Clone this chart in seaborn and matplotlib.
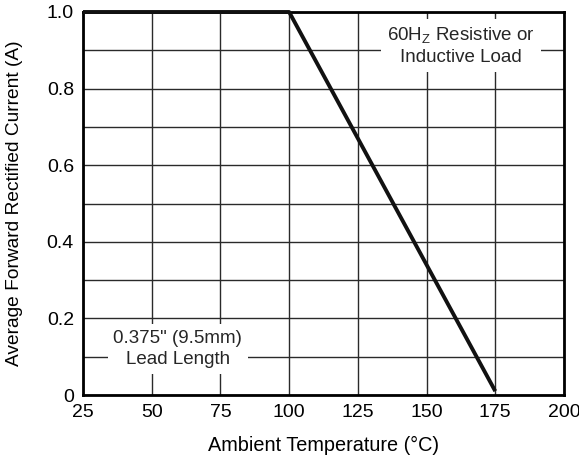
import matplotlib
matplotlib.use("Agg")
import matplotlib.pyplot as plt
import seaborn as sns
import pandas as pd

temperature = [25, 100, 175]
current = [1.0, 1.0, 0.01]
x_ticks = [25, 50, 75, 100, 125, 150, 175, 200]
y_ticks = [0, 0.2, 0.4, 0.6, 0.8, 1.0]
y_tick_labels = ["0", "0.2", "0.4", "0.6", "0.8", "1.0"]
y_grid = [0.1, 0.3, 0.5, 0.7, 0.9]

sns.set_theme(style="white")
plt.rcParams['font.family'] = ['Liberation Sans', 'DejaVu Sans']
plt.rcParams['mathtext.default'] = 'regular'

df = pd.DataFrame({"T": temperature, "I": current})

fig = plt.figure(figsize=(5.79, 4.62), dpi=100)
ax = fig.add_axes([83/579, 1 - 395/462, (564-83)/579, (395-12)/462])

ax.set_xlim(25, 200)
ax.set_ylim(0, 1.0)
ax.set_xticks(x_ticks)
ax.set_yticks(y_ticks)
ax.set_yticklabels(y_tick_labels)
ax.set_yticks(y_grid, minor=True)
ax.grid(True, which='both', color='#2a2a2a', linewidth=1.0)
ax.tick_params(axis='both', which='both', length=0, labelsize=14, colors='black', pad=6.5)

sns.lineplot(data=df, x="T", y="I", ax=ax, color='#111111', linewidth=2.8,
             solid_capstyle='butt', zorder=7, clip_on=False)

for s in ax.spines.values():
    s.set_visible(True)
    s.set_color('black')
    s.set_linewidth(2.0)
    s.set_zorder(6)

ax.set_xlabel("Ambient Temperature (°C)", fontsize=14.3, labelpad=11, color='black')
ax.set_ylabel("Average Forward Rectified Current (A)", fontsize=13.8, labelpad=17, color='black')

ax.text(162.5, 0.912, "60H$_{Z}$ Resistive or\nInductive Load", ha='center', va='center',
        fontsize=13.5, linespacing=1.3, zorder=5,
        bbox=dict(facecolor='white', edgecolor='none', pad=4))
ax.text(59.5, 0.12, "0.375\" (9.5mm)\nLead Length", ha='center', va='center',
        fontsize=13.5, linespacing=1.3, zorder=5,
        bbox=dict(facecolor='white', edgecolor='none', pad=4))

fig.savefig("out.png", dpi=100)
